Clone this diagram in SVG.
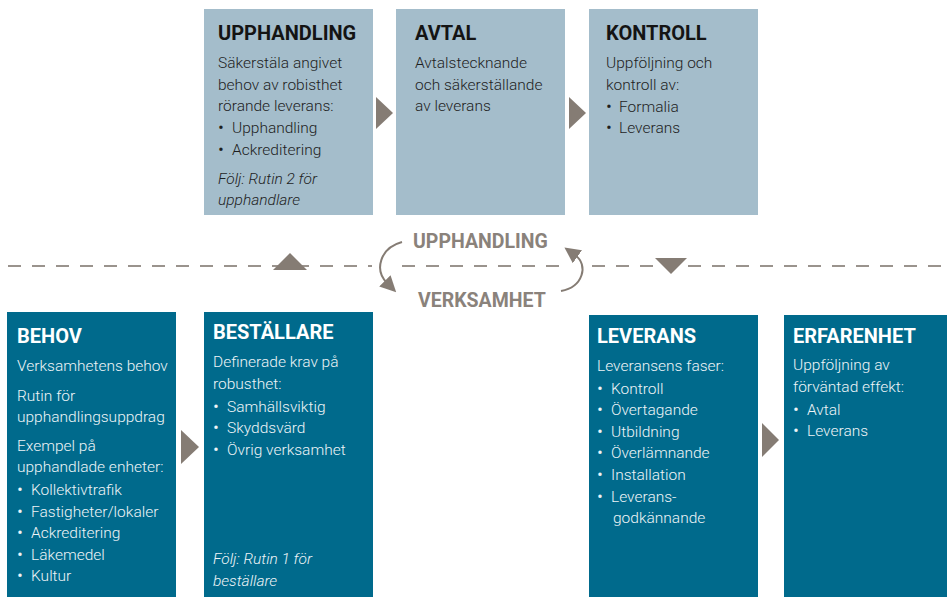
<svg xmlns="http://www.w3.org/2000/svg" width="947" height="597" viewBox="0 0 947 597">
<style>
.light{fill:#a4bdcb}
.dark{fill:#006a8c}
.tri{fill:#857c74}
.t1{font-family:Roboto,"Liberation Sans",sans-serif;font-weight:bold;font-size:20px;fill:#141414}
.b1{font-family:Roboto,"Liberation Sans",sans-serif;font-weight:300;font-size:15.5px;fill:#1e1e1e}
.t2{font-family:Roboto,"Liberation Sans",sans-serif;font-weight:bold;font-size:20px;fill:#ffffff}
.b2{font-family:Roboto,"Liberation Sans",sans-serif;font-weight:300;font-size:15.5px;fill:#eef4f7}
.bl{font-size:18px}
.it{font-style:italic}
.mid{font-family:Roboto,"Liberation Sans",sans-serif;font-weight:bold;font-size:19.5px;fill:#8a827b}
.dash{stroke:#9a938d;stroke-width:2;stroke-dasharray:13 11;fill:none}
.arc{stroke:#857c74;stroke-width:2;fill:none}
</style>
<defs>
<marker id="ah" markerWidth="16" markerHeight="16" refX="3" refY="8" orient="auto" markerUnits="userSpaceOnUse" viewBox="0 0 16 16">
<path d="M0,0 L16,8 L0,16 z" fill="#857c74"/>
</marker>
</defs>

<g id="connectors">
<path class="dash" d="M8,266 H372"/>
<path class="dash" d="M402,266 H560"/>
<path class="dash" d="M592,266 H947"/>
<polygon class="tri" points="273,270 290,253 307,270"/>
<polygon class="tri" points="655,258 687,258 671,274"/>
<polygon class="tri" points="376,97 393,113 376,129"/>
<polygon class="tri" points="569,97 586,113 569,129"/>
<polygon class="tri" points="181,430 199,447 181,464"/>
<polygon class="tri" points="762,423 779,440 762,457"/>
<path class="arc" d="M402,242 C380,248 374,270 387,283" marker-end="url(#ah)"/>
<path class="arc" d="M561,291 C583,287 589,265 575,255" marker-end="url(#ah)"/>
<text class="mid" x="413" y="248">UPPHANDLING</text>
<text class="mid" x="418" y="307">VERKSAMHET</text>
</g>

<g id="upphandling">
<rect class="light" x="204" y="9" width="169" height="206"/>
<text class="t1" x="218" y="40">UPPHANDLING</text>
<text class="b1" x="218" y="68">Säkerstäla angivet</text>
<text class="b1" x="218" y="90">behov av robisthet</text>
<text class="b1" x="218" y="111">rörande leverans:</text>
<text class="b1 bl" x="218" y="134">•</text><text class="b1" x="232" y="133">Upphandling</text>
<text class="b1 bl" x="218" y="156">•</text><text class="b1" x="232" y="155">Ackreditering</text>
<text class="b1 it" x="218" y="184">Följ: Rutin 2 för</text>
<text class="b1 it" x="218" y="205">upphandlare</text>
</g>

<g id="avtal">
<rect class="light" x="396" y="9" width="169" height="206"/>
<text class="t1" x="415" y="40">AVTAL</text>
<text class="b1" x="415" y="68">Avtalstecknande</text>
<text class="b1" x="415" y="90">och säkerställande</text>
<text class="b1" x="415" y="111">av leverans</text>
</g>

<g id="kontroll">
<rect class="light" x="589" y="9" width="169" height="206"/>
<text class="t1" x="606" y="40">KONTROLL</text>
<text class="b1" x="606" y="68">Uppföljning och</text>
<text class="b1" x="606" y="90">kontroll av:</text>
<text class="b1 bl" x="606" y="113">•</text><text class="b1" x="619" y="112">Formalia</text>
<text class="b1 bl" x="606" y="134">•</text><text class="b1" x="619" y="133">Leverans</text>
</g>

<g id="behov">
<rect class="dark" x="7" y="312" width="169" height="285"/>
<text class="t2" x="17" y="343">BEHOV</text>
<text class="b2" x="17" y="371">Verksamhetens behov</text>
<text class="b2" x="17" y="401">Rutin för</text>
<text class="b2" x="17" y="422">upphandlingsuppdrag</text>
<text class="b2" x="17" y="451">Exempel på</text>
<text class="b2" x="17" y="472">upphandlade enheter:</text>
<text class="b2 bl" x="17" y="496">•</text><text class="b2" x="31" y="495">Kollektivtrafik</text>
<text class="b2 bl" x="17" y="518">•</text><text class="b2" x="31" y="517">Fastigheter/lokaler</text>
<text class="b2 bl" x="17" y="539">•</text><text class="b2" x="31" y="538">Ackreditering</text>
<text class="b2 bl" x="17" y="561">•</text><text class="b2" x="31" y="560">Läkemedel</text>
<text class="b2 bl" x="17" y="582">•</text><text class="b2" x="31" y="581">Kultur</text>
</g>

<g id="bestallare">
<rect class="dark" x="204" y="312" width="169" height="285"/>
<text class="t2" x="213" y="339">BESTÄLLARE</text>
<text class="b2" x="213" y="367">Definerade krav på</text>
<text class="b2" x="213" y="389">robusthet:</text>
<text class="b2 bl" x="213" y="413">•</text><text class="b2" x="227" y="412">Samhällsviktig</text>
<text class="b2 bl" x="213" y="434">•</text><text class="b2" x="227" y="433">Skyddsvärd</text>
<text class="b2 bl" x="213" y="456">•</text><text class="b2" x="227" y="455">Övrig verksamhet</text>
<text class="b2 it" x="213" y="564">Följ: Rutin 1 för</text>
<text class="b2 it" x="213" y="586">beställare</text>
</g>

<g id="leverans">
<rect class="dark" x="589" y="315" width="169" height="282"/>
<text class="t2" x="597" y="343">LEVERANS</text>
<text class="b2" x="597" y="371">Leveransens faser:</text>
<text class="b2 bl" x="597" y="395">•</text><text class="b2" x="611" y="394">Kontroll</text>
<text class="b2 bl" x="597" y="416">•</text><text class="b2" x="611" y="415">Övertagande</text>
<text class="b2 bl" x="597" y="438">•</text><text class="b2" x="611" y="437">Utbildning</text>
<text class="b2 bl" x="597" y="459">•</text><text class="b2" x="611" y="458">Överlämnande</text>
<text class="b2 bl" x="597" y="481">•</text><text class="b2" x="611" y="480">Installation</text>
<text class="b2 bl" x="597" y="503">•</text><text class="b2" x="611" y="502">Leverans-</text>
<text class="b2" x="613" y="523">godkännande</text>
</g>

<g id="erfarenhet">
<rect class="dark" x="784" y="315" width="163" height="282"/>
<text class="t2" x="793" y="343">ERFARENHET</text>
<text class="b2" x="793" y="370">Uppföljning av</text>
<text class="b2" x="793" y="392">förväntad effekt:</text>
<text class="b2 bl" x="793" y="416">•</text><text class="b2" x="807" y="415">Avtal</text>
<text class="b2 bl" x="793" y="437">•</text><text class="b2" x="807" y="436">Leverans</text>
</g>
</svg>
